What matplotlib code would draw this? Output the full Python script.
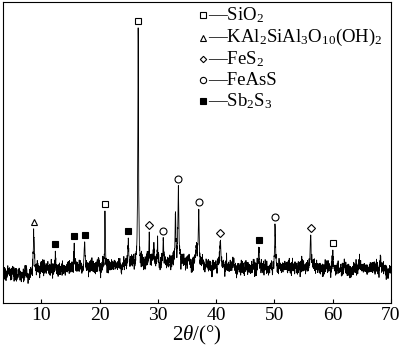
import numpy as np
import matplotlib.pyplot as plt
from matplotlib.lines import Line2D

plt.rcParams['font.family'] = ['Liberation Serif', 'DejaVu Serif']
plt.rcParams['mathtext.fontset'] = 'custom'
plt.rcParams['mathtext.rm'] = 'Liberation Serif'
plt.rcParams['mathtext.it'] = 'Liberation Serif:italic'

# peaks of the pattern: 2theta (deg), height above background (a.u.), FWHM (deg)
peak_pos = [8.7, 12.4, 15.6, 17.4, 19.8, 20.9, 24.9, 26.6, 28.5, 29.3, 29.9, 30.9,
            33.0, 33.5, 35.3, 36.6, 37.0, 40.7, 42.9, 47.3, 50.1, 56.2, 60.0, 64.5, 68.2]
peak_h = [36, 14, 22, 24, 10, 52, 25, 240, 26, 15, 13, 27,
          52, 70, 8, 19, 56, 24, 6, 20, 38, 29, 18, 6, 16]
peak_w = [0.25, 0.15, 0.12, 0.15, 0.15, 0.12, 0.2, 0.14, 0.15, 0.15, 0.15, 0.15,
          0.15, 0.18, 0.3, 0.25, 0.2, 0.2, 0.3, 0.2, 0.18, 0.2, 0.15, 0.3, 0.2]

# background level
bg_pos = [3.4, 8.0, 10.0, 20.0, 27.0, 33.0, 38.0, 45.0, 55.0, 70.0]
bg_val = [31, 29, 35, 36, 40, 41, 37, 35, 36, 33]

# phase markers: 2theta of identified reflections
phases = [
    ('SiO$_2$', 's', 'none', [20.9, 26.6, 60.0]),
    ('KAl$_2$SiAl$_3$O$_{10}$(OH)$_2$', '^', 'none', [8.7]),
    ('FeS$_2$', 'D', 'none', [28.5, 40.7, 56.2]),
    ('FeAsS', 'o', 'none', [30.9, 33.5, 37.0, 50.1]),
    ('Sb$_2$S$_3$', 's', 'black', [12.4, 15.6, 17.4, 24.9, 47.3]),
]

two_theta = np.arange(3.4, 70.0, 0.02)
intensity = np.interp(two_theta, bg_pos, bg_val)
for p, h, w in zip(peak_pos, peak_h, peak_w):
    intensity += h / (1 + ((two_theta - p) / (w / 2)) ** 2)
# detector counting noise
rng = np.random.default_rng(7)
slow = np.convolve(rng.normal(0, 1, two_theta.size), np.ones(15) / 15, mode='same')
intensity += rng.normal(0, 3.2, two_theta.size) + 6 * slow

fig = plt.figure(figsize=(4, 3.5), dpi=100)
ax = fig.add_axes([0.0075, 0.134, 0.97, 0.86])
ax.plot(two_theta, intensity, color='black', lw=0.6)

msize = {'s': 5, '^': 5, 'D': 3.6, 'o': 5}
for name, m, fc, pos in phases:
    for p in pos:
        near = np.abs(two_theta - p) < 0.2
        ax.plot(p, intensity[near].max() + 7, marker=m, ms=msize[m], mfc=fc,
                mec='black', mew=0.8, ls='none')

# legend drawn as marker + dash + formula
leg_y = [0.958, 0.882, 0.811, 0.741, 0.671]
for (name, m, fc, pos), y in zip(phases, leg_y):
    ax.add_line(Line2D([0.515], [y], transform=ax.transAxes, marker=m,
                       ms=msize[m] * 0.9, mfc=fc, mec='black', mew=0.8, ls='none'))
    ax.text(0.528, y, '—' + name, transform=ax.transAxes, fontsize=13.5,
            va='center', ha='left')

ax.set_xlim(3.4, 70)
ax.set_ylim(0, 301)
ax.set_xticks([10, 20, 30, 40, 50, 60, 70])
ax.tick_params(axis='x', direction='in', length=3, width=0.8, labelsize=14, pad=3)
ax.set_yticks([])
ax.set_xlabel(r'2$\theta$/(°)', fontsize=15, labelpad=0)
for s in ax.spines.values():
    s.set_linewidth(0.8)

fig.savefig('out.png', dpi=100)
